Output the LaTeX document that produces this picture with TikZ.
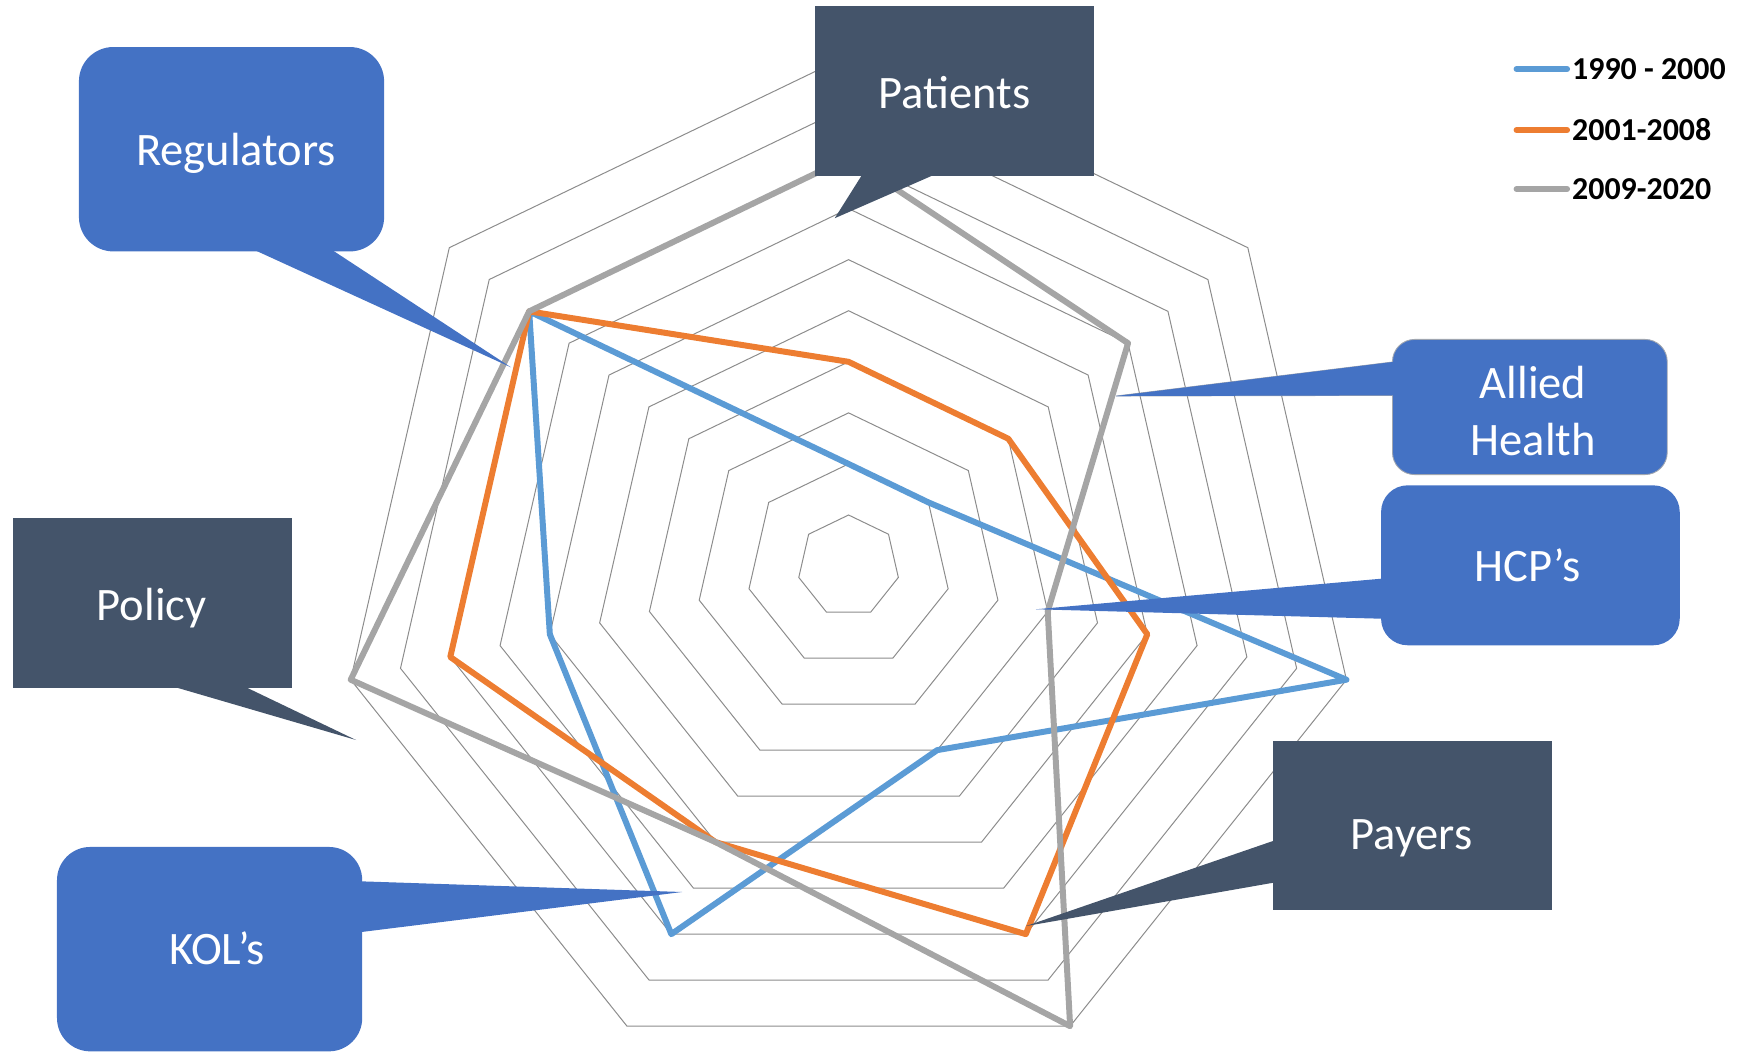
\documentclass[tikz,border=0pt]{standalone}
\usepackage{fontspec}
\setmainfont{Carlito}
\usetikzlibrary{calc}
\definecolor{callblue}{HTML}{4472C4}
\definecolor{calldark}{HTML}{44546A}
\definecolor{serblue}{HTML}{5B9BD5}
\definecolor{serorange}{HTML}{ED7D31}
\definecolor{sergray}{HTML}{A5A5A5}
\definecolor{ringgray}{HTML}{8C8C8C}
\definecolor{edgegray}{HTML}{A0A6B0}
\begin{document}
\begin{tikzpicture}[x=1pt,y=-1pt,
  ring/.style={draw=ringgray, line width=0.9pt},
  series/.style={line width=5.4pt, line join=round},
  boxbase/.style={inner sep=0pt, outer sep=0pt},
  bluebox/.style={boxbase, fill=callblue, rounded corners=#1, minimum width=275.5pt, minimum height=184.5pt},
  darkbox/.style={boxbase, fill=calldark, minimum width=251.7pt, minimum height=153pt},
  lbl/.style={text=white, font=\fontsize{42}{51}\selectfont, anchor=base, inner sep=0pt},
  legline/.style={line width=5.4pt, line cap=round},
  legtext/.style={font=\bfseries\fontsize{28.8}{34}\selectfont, anchor=base west, inner sep=0pt}
]
\useasboundingbox (0,0) rectangle (1568,950);

% radar chart
\begin{scope}[shift={(766,511)}, yscale=-1]
  \foreach \k in {1,...,10} {
    \pgfmathsetmacro\rr{46.1*\k}
    \draw[ring] (90:\rr) \foreach \i in {1,...,6} { -- ({90-\i*360/7}:\rr) } -- cycle;
  }
  \draw[series, serblue] (90:92.2) -- (38.5714:92.2) -- (-12.8571:461) -- (-64.2857:184.4) -- (-115.7143:368.8) -- (-167.1429:276.6) -- (141.4286:368.8) -- cycle;
  \draw[series, serorange] (90:184.4) -- (38.5714:184.4) -- (-12.8571:276.6) -- (-64.2857:368.8) -- (-115.7143:276.6) -- (-167.1429:368.8) -- (141.4286:368.8) -- cycle;
  \draw[series, sergray] (90:368.8) -- (38.5714:322.7) -- (-12.8571:184.4) -- (-64.2857:461) -- (-115.7143:276.6) -- (-167.1429:461) -- (141.4286:368.8) -- cycle;
\end{scope}

% pointer coordinates
\coordinate (regA) at (232.6,227);   \coordinate (regB) at (301.8,227);   \coordinate (regT) at (461.3,331.6);
\coordinate (patA) at (777.5,158.9); \coordinate (patB) at (840.7,158.9); \coordinate (patT) at (753.5,197);
\coordinate (allA) at (1257,326.8);  \coordinate (allB) at (1257,356.9);  \coordinate (allT) at (1007.5,357.5);
\coordinate (hcpA) at (1246.7,522.4);\coordinate (hcpB) at (1246.7,558.5);\coordinate (hcpT) at (935,550);
\coordinate (payA) at (1149.6,759);  \coordinate (payB) at (1149.6,796.8);\coordinate (payT) at (926,836);
\coordinate (kolA) at (326.6,795.6); \coordinate (kolB) at (326.6,841.3); \coordinate (kolT) at (615.7,805.2);
\coordinate (polA) at (159.5,620.7); \coordinate (polB) at (222.7,620.7); \coordinate (polT) at (321.4,668);

% Allied Health pointer outline (drawn under its box)
\filldraw[fill=callblue, draw=edgegray, line width=0.8pt] (allA) -- (allT) -- (allB) -- cycle;

% callout boxes
\node[bluebox=31pt] (reg) at (209,134.7) {};
\node[darkbox] (pat) at (861.8,82.2) {};
\node[boxbase, fill=callblue, draw=edgegray, line width=0.8pt, rounded corners=20pt, minimum width=248pt, minimum height=122pt] (all) at (1381,367.4) {};
\node[boxbase, fill=callblue, rounded corners=24pt, minimum width=269.6pt, minimum height=144.4pt] (hcp) at (1381.5,510.3) {};
\node[darkbox] (pay) at (1275.3,745.4) {};
\node[bluebox=30pt] (kol) at (189.2,856.8) {};
\node[darkbox] (pol) at (137.4,544.3) {};

\fill[callblue] ($(regA)!-0.08!(regT)$) -- (regT) -- ($(regB)!-0.08!(regT)$) -- cycle;
\fill[calldark] ($(patA)!-0.08!(patT)$) -- (patT) -- ($(patB)!-0.08!(patT)$) -- cycle;
\fill[callblue] ($(allA)!-0.08!(allT)$) -- (allT) -- ($(allB)!-0.08!(allT)$) -- cycle;
\fill[callblue] ($(hcpA)!-0.08!(hcpT)$) -- (hcpT) -- ($(hcpB)!-0.08!(hcpT)$) -- cycle;
\fill[calldark] ($(payA)!-0.08!(payT)$) -- (payT) -- ($(payB)!-0.08!(payT)$) -- cycle;
\fill[callblue] ($(kolA)!-0.08!(kolT)$) -- (kolT) -- ($(kolB)!-0.08!(kolT)$) -- cycle;
\fill[calldark] ($(polA)!-0.08!(polT)$) -- (polT) -- ($(polB)!-0.08!(polT)$) -- cycle;

% labels
\node[lbl] (regt) at (213,149.6) {Regulators};
\node[lbl] (patt) at (861.8,97.8) {Patients};
\node[lbl] (allt1) at (1384,359.9) {Allied};
\node[lbl] (allt2) at (1384,411) {Health};
\node[lbl] (hcpt) at (1379,524.8) {HCP’s};
\node[lbl] (payt) at (1274.3,766.7) {Payers};
\node[lbl] (kolt) at (196,870.8) {KOL’s};
\node[lbl] (polt) at (136.9,559.7) {Policy};

% legend
\coordinate (l1a) at (1369,62.3);  \coordinate (l1b) at (1414.6,62.3);
\coordinate (l2a) at (1369,117.4); \coordinate (l2b) at (1414.6,117.4);
\coordinate (l3a) at (1369,170.6); \coordinate (l3b) at (1414.6,170.6);
\draw[legline, serblue] (l1a) -- (l1b);
\draw[legline, serorange] (l2a) -- (l2b);
\draw[legline, sergray] (l3a) -- (l3b);
\node[legtext] (leg1) at (1419,72) {1990 - 2000};
\node[legtext] (leg2) at (1419,127.1) {2001-2008};
\node[legtext] (leg3) at (1419,180.3) {2009-2020};
\end{tikzpicture}
\end{document}
